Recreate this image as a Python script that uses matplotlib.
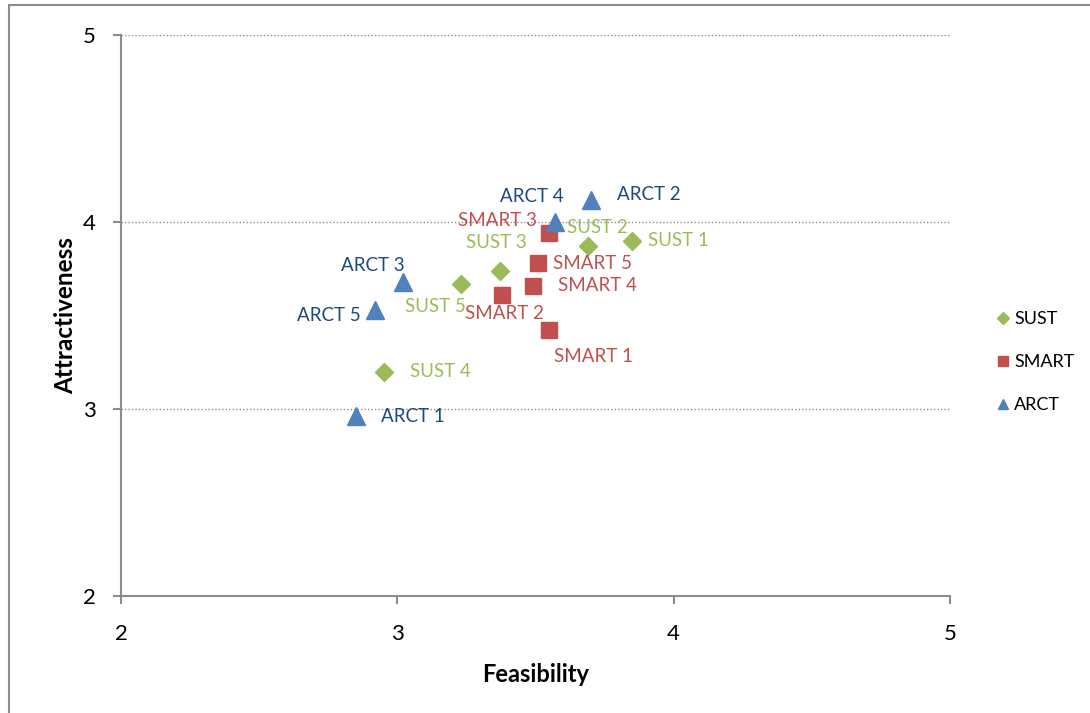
import matplotlib.pyplot as plt
from matplotlib.patches import Rectangle

plt.rcParams['font.family'] = ['Lato', 'DejaVu Sans']

# feasibility / attractiveness scores per project
sust_x = [3.85, 3.69, 3.37, 2.95, 3.23]
sust_y = [3.90, 3.87, 3.74, 3.20, 3.67]
smart_x = [3.55, 3.38, 3.55, 3.49, 3.51]
smart_y = [3.42, 3.61, 3.94, 3.66, 3.78]
arct_x = [2.85, 3.70, 3.02, 3.57, 2.92]
arct_y = [2.96, 4.12, 3.68, 4.00, 3.53]
sust_labels = ['SUST 1', 'SUST 2', 'SUST 3', 'SUST 4', 'SUST 5']
smart_labels = ['SMART 1', 'SMART 2', 'SMART 3', 'SMART 4', 'SMART 5']
arct_labels = ['ARCT 1', 'ARCT 2', 'ARCT 3', 'ARCT 4', 'ARCT 5']

# label placement (pixel offsets from the point)
sust_off = [(16, 0), (-21, 19), (-34, 28), (26, 0), (-56, -23)]
smart_off = [(5, -26), (-37, -19), (-91, 13), (25, 0), (15, 0)]
arct_off = [(25, 0), (26, 5), (-62, 16), (-55, 25), (-78, -6)]

fig = plt.figure(figsize=(10.9, 7.13), dpi=100)
ax = fig.add_axes([121 / 1090, 1 - 596 / 713, (950 - 121) / 1090, (596 - 35) / 713])

# chart area border
fig.patches.append(Rectangle((9 / 1090, -0.1), 1.2, 1.1 - 5 / 713, transform=fig.transFigure,
                             fill=False, edgecolor='#8c8c8c', linewidth=1.5))

series = [
    (sust_x, sust_y, sust_labels, sust_off, 'D', 9.5, '#9BBB59', '#9BBB59', 'SUST'),
    (smart_x, smart_y, smart_labels, smart_off, 's', 11.5, '#C0504D', '#C0504D', 'SMART'),
    (arct_x, arct_y, arct_labels, arct_off, '^', 12.5, '#4F81BD', '#1F497D', 'ARCT'),
]
for xs, ys, labels, offs, mk, ms, col, tcol, name in series:
    ax.plot(xs, ys, linestyle='none', marker=mk, markersize=ms, color=col, label=name)
    for x, y, lab, (dx, dy) in zip(xs, ys, labels, offs):
        ax.annotate(lab, (x, y), xytext=(dx, dy), textcoords='offset pixels',
                    ha='left', va='center', color=tcol, fontsize=13.5)

ax.set_xlim(2, 5)
ax.set_ylim(2, 5)
ax.set_xticks([2, 3, 4, 5])
ax.set_yticks([2, 3, 4, 5])
ax.yaxis.grid(True, linestyle=(0, (1, 1.5)), color='#8c8c8c', linewidth=1)
ax.set_axisbelow(True)
for s in ['top', 'right']:
    ax.spines[s].set_visible(False)
for s in ['left', 'bottom']:
    ax.spines[s].set_color('#8c8c8c')
    ax.spines[s].set_linewidth(1.5)
ax.tick_params(direction='out', length=6, width=1.5, color='#8c8c8c', labelsize=16)
ax.tick_params(axis='x', pad=14)
ax.tick_params(axis='y', pad=12)
ax.set_xlabel('Feasibility', fontsize=17, fontweight='bold', labelpad=14)
ax.set_ylabel('Attractiveness', fontsize=17.5, fontweight='bold', labelpad=4)

fig.legend(handles=[plt.Line2D([], [], linestyle='none', marker='D', markersize=6, color='#9BBB59'),
                    plt.Line2D([], [], linestyle='none', marker='s', markersize=7, color='#C0504D'),
                    plt.Line2D([], [], linestyle='none', marker='^', markersize=7.5, color='#4F81BD')],
           labels=['SUST', 'SMART', 'ARCT'], loc='center left',
           bbox_to_anchor=(980 / 1090, 1 - 362 / 713), frameon=False, fontsize=13,
           handlelength=0.8, handletextpad=0.2, labelspacing=1.5)

fig.savefig('out.png', dpi=100)
